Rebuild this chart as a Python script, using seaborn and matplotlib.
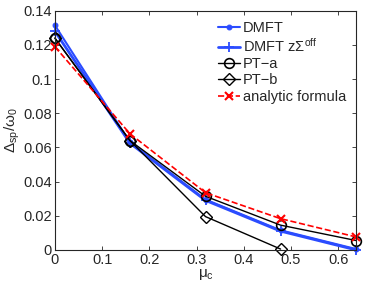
import numpy as np
import pandas as pd
import matplotlib
matplotlib.use("Agg")
import matplotlib.pyplot as plt
import seaborn as sns

# data
mu_c = [0.0, 0.159, 0.319, 0.478, 0.638]
dmft = [0.1315, 0.063, 0.0295, 0.0115, 0.0005]
dmft_zsig = [0.128, 0.0625, 0.029, 0.011, 0.0]
pt_a = [0.124, 0.064, 0.0314, 0.0145, 0.0055]
mu_c_b = [0.0, 0.159, 0.319, 0.478]
pt_b = [0.124, 0.064, 0.0195, 0.0005]
analytic = [0.119, 0.068, 0.0335, 0.0183, 0.0076]

sns.set_style("ticks")
plt.rcParams['font.family'] = ['Liberation Sans', 'DejaVu Sans']
plt.rcParams['mathtext.fontset'] = 'custom'
plt.rcParams['mathtext.rm'] = 'Liberation Sans'
plt.rcParams['mathtext.it'] = 'Liberation Sans'

fig = plt.figure(figsize=(3.66, 2.84), dpi=100)
ax = fig.add_axes([0.150, 0.120, 0.823, 0.842])

blue = '#2b4cff'
sns.lineplot(x=mu_c, y=dmft, ax=ax, color=blue, marker='.', markersize=7, lw=1.5,
             markeredgecolor=blue, label='DMFT', clip_on=False)
sns.lineplot(x=mu_c, y=dmft_zsig, ax=ax, color=blue, marker='+', markersize=7, lw=2,
             markeredgewidth=1.3, markeredgecolor=blue, label=r'DMFT z$\Sigma^{\rm off}$', clip_on=False)
sns.lineplot(x=mu_c, y=pt_a, ax=ax, color='black', marker='o', markersize=7, lw=1,
             markerfacecolor='none', markeredgecolor='black', markeredgewidth=1.2, label='PT\u2212a', clip_on=False)
sns.lineplot(x=mu_c_b, y=pt_b, ax=ax, color='black', marker='D', markersize=6, lw=1,
             markerfacecolor='none', markeredgecolor='black', markeredgewidth=1, label='PT\u2212b', clip_on=False)
sns.lineplot(x=mu_c, y=analytic, ax=ax, color='red', marker='x', markersize=6, lw=1.2,
             linestyle='--', markeredgecolor='red', markeredgewidth=1.5, label='analytic formula', clip_on=False)

ax.set_xlim(0, 0.638)
ax.set_ylim(0, 0.14)
ax.set_xticks([0, 0.1, 0.2, 0.3, 0.4, 0.5, 0.6])
ax.set_xticklabels(['0', '0.1', '0.2', '0.3', '0.4', '0.5', '0.6'])
ax.set_yticks([0, 0.02, 0.04, 0.06, 0.08, 0.1, 0.12, 0.14])
ax.set_yticklabels(['0', '0.02', '0.04', '0.06', '0.08', '0.1', '0.12', '0.14'])
ax.tick_params(direction='in', top=True, right=True, labelsize=10.5, length=3, width=0.6, pad=2)
for s in ax.spines.values():
    s.set_linewidth(0.8)

ax.set_xlabel(r'$\mu_{\rm c}$', fontsize=11, labelpad=0)
ax.set_ylabel(r'$\Delta_{\rm sp}/\omega_0$', fontsize=11, labelpad=1)

ax.legend(loc='upper right', frameon=False, fontsize=10.5, handlelength=1.5,
          handletextpad=0.2, labelspacing=0.15, borderaxespad=0.3)

fig.savefig('out.png', dpi=100)
